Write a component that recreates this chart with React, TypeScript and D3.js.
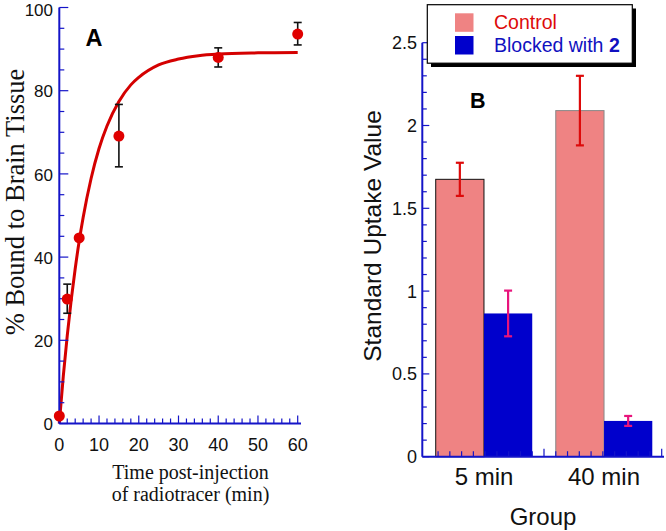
import * as d3 from "d3";

// Panel A: binding time course (min, % bound)
const timePoints = [0, 2, 5, 15, 40, 60];
const boundValues = [1.8, 29.9, 44.6, 69.1, 88.0, 93.6];
const boundLow = [null, 26.5, null, 61.7, 85.7, 91.0];
const boundHigh = [null, 33.5, null, 76.7, 90.3, 96.4];

// fitted curve
const fitTimes = [0, 1, 2, 3, 4, 5, 6, 8, 10, 12, 15, 18, 20, 25, 30, 35, 40, 50, 60];
const fitValues = [0, 11.3, 21.1, 29.7, 37.2, 43.8, 49.5, 58.9, 66.1, 71.5, 77.4, 81.4, 83.2, 86.2, 87.6, 88.4, 88.8, 89.1, 89.2];

const xTicksA = [0, 10, 20, 30, 40, 50, 60];
const yTicksA = [0, 20, 40, 60, 80, 100];

// Panel B: SUV by group
const groups = ["5 min", "40 min"];
const groupPos = [0.49, 1.51];
const controlSUV = [1.675, 2.09];
const controlErr = [0.1, 0.21];
const blockedSUV = [0.865, 0.216];
const blockedErr = [0.138, 0.03];
const yTicksB = [0, 0.5, 1, 1.5, 2, 2.5];
const yTickLabelsB = ["0", "0.5", "1", "1.5", "2", "2.5"];

const AXIS = "#1414c8";
const SANS = "Liberation Sans, Arial, Helvetica, sans-serif";
const SERIF = "Liberation Serif, Times New Roman, serif";

export default function App() {
  // scales for panel A
  const xA = d3.scaleLinear().domain([0, 60]).range([59.3, 297.7]);
  const yA = d3.scaleLinear().domain([0, 100]).range([423.5, 7.5]);
  const fitLine = d3
    .line<number>()
    .x((d, i) => xA(fitTimes[i]))
    .y((d) => yA(d))
    .curve(d3.curveMonotoneX);

  // scales for panel B
  const xB = d3.scaleLinear().domain([1, 2]).range([544, 661.7]);
  const yB = d3.scaleLinear().domain([0, 2.5]).range([456.7, 42.7]);
  const barW = 0.41;
  const axisLeftB = 422.3;
  const axisRightB = 664;

  const minorXA = d3.range(0, 61, 2);
  const minorYA = d3.range(0, 101, 5);
  const minorXB = d3.range(0.1, 2.05, 0.1);
  const minorYB = d3.range(0, 2.51, 0.1);

  return (
    <svg
      width={666}
      height={531}
      style={{ position: "absolute", left: 0, top: 0, background: "#fff" }}
    >
      {/* ---------- Panel A ---------- */}
      <g>
        <path d={fitLine(fitValues) || ""} fill="none" stroke="#d40000" strokeWidth={3} />

        {/* error bars */}
        {timePoints.map((t, i) =>
          boundLow[i] == null ? null : (
            <g key={"ea" + i} stroke="#111" strokeWidth={1.6}>
              <line x1={xA(t)} x2={xA(t)} y1={yA(boundLow[i]!)} y2={yA(boundHigh[i]!)} />
              <line x1={xA(t) - 4} x2={xA(t) + 4} y1={yA(boundLow[i]!)} y2={yA(boundLow[i]!)} />
              <line x1={xA(t) - 4} x2={xA(t) + 4} y1={yA(boundHigh[i]!)} y2={yA(boundHigh[i]!)} />
            </g>
          )
        )}

        {/* axes */}
        <line x1={xA(0)} x2={xA(0)} y1={yA(0)} y2={yA(100)} stroke={AXIS} strokeWidth={2} />
        <line x1={xA(0)} x2={301} y1={yA(0)} y2={yA(0)} stroke={AXIS} strokeWidth={2} />
        {minorYA.map((v) => (
          <line
            key={"mya" + v}
            x1={xA(0)}
            x2={xA(0) + (v % 20 === 0 ? 9 : 5)}
            y1={yA(v)}
            y2={yA(v)}
            stroke={AXIS}
            strokeWidth={1.2}
          />
        ))}
        {minorXA.map((v) => (
          <line
            key={"mxa" + v}
            x1={xA(v)}
            x2={xA(v)}
            y1={yA(0)}
            y2={yA(0) - (v % 10 === 0 ? 8 : 5)}
            stroke={AXIS}
            strokeWidth={1.2}
          />
        ))}

        {timePoints.map((t, i) => (
          <circle key={"pa" + i} cx={xA(t)} cy={yA(boundValues[i])} r={5.5} fill="#e00000" />
        ))}

        {yTicksA.map((v) => (
          <text
            key={"ya" + v}
            x={53}
            y={Math.max(yA(v) + 1, 10)}
            dy="0.34em"
            textAnchor="end"
            fontFamily={SANS}
            fontSize={17}
            fill="#111"
          >
            {v}
          </text>
        ))}
        {xTicksA.map((v) => (
          <text
            key={"xa" + v}
            x={xA(v)}
            y={451}
            textAnchor="middle"
            fontFamily={SANS}
            fontSize={18}
            fill="#111"
          >
            {v}
          </text>
        ))}

        <text x={190.5} y={479} textAnchor="middle" fontFamily={SERIF} fontSize={20} fill="#111">
          Time post-injection
        </text>
        <text x={190.5} y={501} textAnchor="middle" fontFamily={SERIF} fontSize={20} fill="#111">
          of radiotracer (min)
        </text>
        <text
          transform="translate(24,202) rotate(-90)"
          textAnchor="middle"
          fontFamily={SERIF}
          fontSize={26.5}
          fill="#111"
        >
          % Bound to Brain Tissue
        </text>
        <text x={85.5} y={46} fontFamily={SANS} fontSize={23.5} fontWeight="bold" fill="#000">
          A
        </text>
      </g>

      {/* ---------- Panel B ---------- */}
      <g>
        {groups.map((g, i) => (
          <g key={"bar" + g}>
            <rect
              x={xB(groupPos[i] - barW)}
              y={yB(controlSUV[i])}
              width={xB(groupPos[i]) - xB(groupPos[i] - barW)}
              height={yB(0) - yB(controlSUV[i])}
              fill="#ef8383"
              stroke={i === 0 ? "#111" : "#888"}
              strokeWidth={1}
            />
            <rect
              x={xB(groupPos[i])}
              y={yB(blockedSUV[i])}
              width={xB(groupPos[i] + barW) - xB(groupPos[i])}
              height={yB(0) - yB(blockedSUV[i])}
              fill="#0000cc"
            />
          </g>
        ))}

        {/* axes drawn over the bars */}
        <line x1={axisLeftB} x2={axisLeftB} y1={yB(0)} y2={yB(2.5)} stroke={AXIS} strokeWidth={2} />
        <line x1={axisLeftB} x2={axisRightB} y1={yB(0)} y2={yB(0)} stroke={AXIS} strokeWidth={2} />
        {minorYB.map((v, i) => (
          <line
            key={"myb" + i}
            x1={axisLeftB}
            x2={axisLeftB + (i % 5 === 0 ? 7 : 4.5)}
            y1={yB(v)}
            y2={yB(v)}
            stroke={AXIS}
            strokeWidth={1.2}
          />
        ))}
        {minorXB.map((v, i) => (
          <line
            key={"mxb" + i}
            x1={xB(v)}
            x2={xB(v)}
            y1={yB(0)}
            y2={yB(0) - ((i + 1) % 10 === 0 ? 8 : 5.5)}
            stroke={AXIS}
            strokeWidth={1.2}
          />
        ))}

        {/* error bars */}
        {groups.map((g, i) => {
          const cx = xB(groupPos[i] - barW / 2);
          const bx = xB(groupPos[i] + barW / 2);
          return (
            <g key={"eb" + g} strokeWidth={2.2}>
              <g stroke="#dd0a0a">
                <line x1={cx} x2={cx} y1={yB(controlSUV[i] - controlErr[i])} y2={yB(controlSUV[i] + controlErr[i])} />
                <line x1={cx - 4} x2={cx + 4} y1={yB(controlSUV[i] - controlErr[i])} y2={yB(controlSUV[i] - controlErr[i])} />
                <line x1={cx - 4} x2={cx + 4} y1={yB(controlSUV[i] + controlErr[i])} y2={yB(controlSUV[i] + controlErr[i])} />
              </g>
              <g stroke="#e8147c">
                <line x1={bx} x2={bx} y1={yB(blockedSUV[i] - blockedErr[i])} y2={yB(blockedSUV[i] + blockedErr[i])} />
                <line x1={bx - 4} x2={bx + 4} y1={yB(blockedSUV[i] - blockedErr[i])} y2={yB(blockedSUV[i] - blockedErr[i])} />
                <line x1={bx - 4} x2={bx + 4} y1={yB(blockedSUV[i] + blockedErr[i])} y2={yB(blockedSUV[i] + blockedErr[i])} />
              </g>
            </g>
          );
        })}

        {yTicksB.map((v, i) => (
          <text
            key={"yb" + v}
            x={417}
            y={yB(v)}
            dy="0.36em"
            textAnchor="end"
            fontFamily={SANS}
            fontSize={18}
            fill="#111"
          >
            {yTickLabelsB[i]}
          </text>
        ))}
        {groups.map((g, i) => (
          <text
            key={"gl" + g}
            x={xB(groupPos[i])}
            y={484.5}
            textAnchor="middle"
            fontFamily={SANS}
            fontSize={24}
            fill="#111"
          >
            {g}
          </text>
        ))}
        <text x={543} y={525} textAnchor="middle" fontFamily={SANS} fontSize={24} fill="#111">
          Group
        </text>
        <text
          transform="translate(381,236) rotate(-90)"
          textAnchor="middle"
          fontFamily={SANS}
          fontSize={24.5}
          fill="#111"
        >
          Standard Uptake Value
        </text>
        <text x={470} y={108} fontFamily={SANS} fontSize={21.5} fontWeight="bold" fill="#000">
          B
        </text>

        {/* legend */}
        <rect x={431} y={8.5} width={205} height={58.5} fill="#000" />
        <rect x={427.3} y={4.7} width={205} height={58.5} fill="#fff" stroke="#000" strokeWidth={1.2} />
        <rect x={455} y={13.3} width={18.5} height={18.5} fill="#ef8383" />
        <rect x={455} y={36} width={18.5} height={18.5} fill="#0000cc" />
        <text x={494} y={28.5} fontFamily={SANS} fontSize={19.5} fill="#dd0a0a">
          Control
        </text>
        <text x={494} y={51.5} fontFamily={SANS} fontSize={19.5} fill="#1010c0">
          Blocked with <tspan fontWeight="bold">2</tspan>
        </text>
      </g>
    </svg>
  );
}
